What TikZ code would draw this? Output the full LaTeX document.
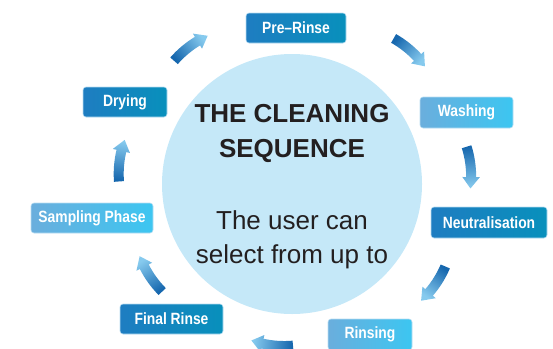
\documentclass[tikz,border=0pt]{standalone}
\usepackage{fontspec}
\setmainfont{Liberation Sans}
\newfontfamily\boxfont[FakeStretch=0.85]{Liberation Sans}
\usetikzlibrary{calc}
\definecolor{txt}{HTML}{231F20}
\definecolor{circfill}{HTML}{C5E8F8}
\definecolor{darkA}{HTML}{1E7DC1}
\definecolor{darkB}{HTML}{0890BC}
\definecolor{lightA}{HTML}{6AAEDD}
\definecolor{lightB}{HTML}{3CC6F1}
\definecolor{arrowtail}{HTML}{1667AE}
\definecolor{arrowmid}{HTML}{1D7BC0}
\definecolor{arrowtip}{HTML}{86CAEE}
\definecolor{boxedge}{HTML}{B8DDF2}
\tikzset{
  stage/.style={rounded corners=3pt, draw=boxedge, line width=0.6pt, text=white,
    font=\boxfont\bfseries\fontsize{16.3}{16.3}\selectfont, inner sep=0pt, minimum height=30pt},
  darkstage/.style={stage, left color=darkA, right color=darkB},
  lightstage/.style={stage, left color=lightA, right color=lightB},
  titletext/.style={text=txt, font=\bfseries\fontsize{26}{26}\selectfont, anchor=base, inner sep=0pt},
  bodytext/.style={text=txt, font=\fontsize{26}{26}\selectfont, anchor=base, inner sep=0pt},
}
% #1 mid angle of the arrow around (c), #2 distance of its middle from (c)
\newcommand\cyclearrow[2]{%
  \pgfmathsetmacro\lrad{100}%
  \pgfmathsetmacro\aS{#1-12.1}%
  \pgfmathsetmacro\aT{#1+12.1}%
  \pgfmathsetmacro\aH{\aT-11.5/\lrad*57.2958}%
  \pgfmathsetmacro\rO{\lrad+5}%
  \pgfmathsetmacro\rI{\lrad-5}%
  \pgfmathsetmacro\rHO{\lrad+8.8}%
  \pgfmathsetmacro\rHI{\lrad-8.8}%
  \pgfmathsetmacro\shang{atan2(sin(\aT)-sin(\aS),cos(\aS)-cos(\aT))-90}%
  \coordinate (lc) at ($(c)+(#1:#2-\lrad)$);
  \shade[top color=arrowtail, middle color=arrowmid, bottom color=arrowtip, shading angle=\shang]
    ($(lc)+(\aS:\rO)$) arc[start angle=\aS, end angle=\aH, radius=\rO]
    -- ($(lc)+(\aH:\rHO)$) -- ($(lc)+(\aT:\lrad)$) -- ($(lc)+(\aH:\rHI)$)
    -- ($(lc)+(\aH:\rI)$) arc[start angle=\aH, end angle=\aS, radius=\rI] -- cycle;
}
\begin{document}
\begin{tikzpicture}[x=1pt, y=-1pt]
\useasboundingbox (0,0) rectangle (553,348);
\coordinate (c) at (292,184);
\fill[circfill] (c) circle[radius=130];
\node[titletext] (t1) at (292,122) {THE CLEANING};
\node[titletext] (t2) at (292,157) {SEQUENCE};
\node[bodytext] (t3) at (292,229) {The user can};
\node[bodytext] (t4) at (292,263) {select from up to};
\node[darkstage, minimum width=100pt] (prerinse) at (296,28) {Pre–Rinse};
\node[lightstage, minimum width=93pt, minimum height=31pt] (washing) at (466.5,112.5) {Washing};
\node[darkstage, minimum width=116pt, minimum height=31pt] (neutral) at (489,222.5) {Neutralisation};
\node[lightstage, minimum width=84pt, minimum height=31pt] (rinsing) at (370,334.5) {Rinsing};
\node[darkstage, minimum width=103pt] (final) at (171.5,319) {Final Rinse};
\node[lightstage, minimum width=122pt] (sampling) at (92,218) {Sampling Phase};
\node[darkstage, minimum width=84pt] (drying) at (125,102) {Drying};
\cyclearrow{-126.7}{171.5}
\cyclearrow{-48.3}{178.5}
\cyclearrow{-5.3}{179.5}
\cyclearrow{35.2}{175}
\cyclearrow{97.1}{162.5}
\cyclearrow{147.5}{169.5}
\cyclearrow{187.8}{174}
\end{tikzpicture}
\end{document}
